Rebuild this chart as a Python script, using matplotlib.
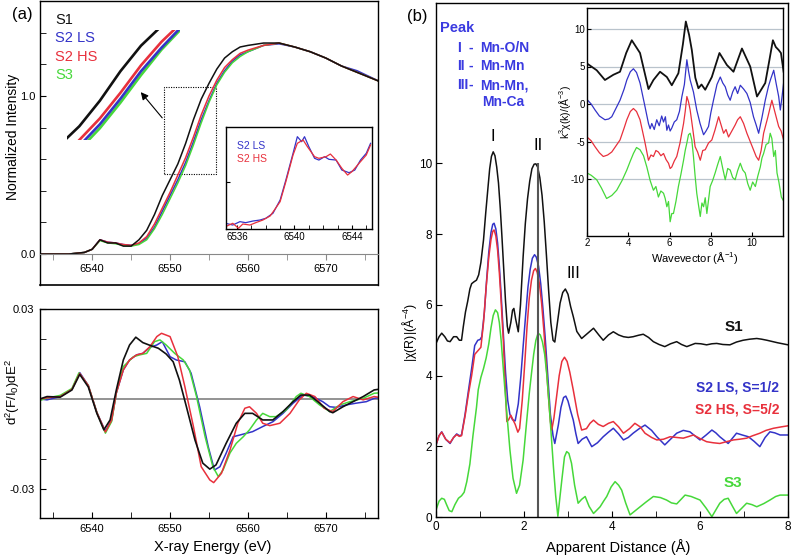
import numpy as np
import matplotlib
matplotlib.use('Agg')
import matplotlib.pyplot as plt
from matplotlib.patches import Rectangle
from matplotlib.ticker import MultipleLocator, FixedLocator

plt.rcParams['font.family'] = ['Liberation Sans', 'DejaVu Sans']
plt.rcParams['mathtext.fontset'] = 'custom'
plt.rcParams['mathtext.rm'] = 'Liberation Sans'
plt.rcParams['mathtext.it'] = 'Liberation Sans:italic'
plt.rcParams['axes.unicode_minus'] = False

BLACK, BLUE, RED, GREEN = '#111111', '#3333c8', '#e8303c', '#46d83a'
TXTBLUE = '#3a3ae0'

# ---- (a) top: normalized XANES ----
energy = [6533, 6535, 6537, 6538, 6539, 6540, 6541, 6542, 6543, 6544, 6545, 6546,
          6547, 6548, 6549, 6550, 6551, 6552, 6553, 6554, 6555, 6556, 6557, 6558,
          6559, 6560, 6562, 6564, 6566, 6568, 6570, 6572, 6574, 6577]
xanes_s1 = [0, 0, 0.0, 0.005, 0.01, 0.03, 0.09, 0.07, 0.07, 0.05, 0.05, 0.09,
            0.15, 0.25, 0.37, 0.47, 0.57, 0.70, 0.85, 0.98, 1.08, 1.17, 1.24, 1.28,
            1.31, 1.32, 1.335, 1.335, 1.31, 1.28, 1.24, 1.19, 1.15, 1.09]
xanes_ls = [0, 0, 0, 0.005, 0.01, 0.03, 0.09, 0.075, 0.07, 0.06, 0.055, 0.065,
            0.10, 0.17, 0.27, 0.37, 0.47, 0.58, 0.71, 0.85, 0.97, 1.08, 1.16, 1.22,
            1.26, 1.28, 1.32, 1.33, 1.31, 1.28, 1.24, 1.19, 1.16, 1.09]
xanes_hs = [0, 0, 0, 0.005, 0.01, 0.03, 0.09, 0.075, 0.07, 0.06, 0.055, 0.07,
            0.11, 0.19, 0.29, 0.39, 0.50, 0.61, 0.74, 0.88, 1.00, 1.10, 1.18, 1.23,
            1.27, 1.29, 1.32, 1.335, 1.31, 1.28, 1.24, 1.19, 1.15, 1.09]
xanes_s3 = [0, 0, 0, 0.005, 0.01, 0.03, 0.085, 0.07, 0.065, 0.055, 0.05, 0.06,
            0.09, 0.16, 0.25, 0.35, 0.45, 0.56, 0.69, 0.83, 0.96, 1.07, 1.15, 1.21,
            1.25, 1.28, 1.32, 1.335, 1.31, 1.28, 1.24, 1.19, 1.15, 1.09]

# pre-edge inset
pre_e_ls = [6535.2, 6535.7, 6536.2, 6536.6, 6537.1, 6537.6, 6538.0, 6538.5, 6539.0, 6539.4,
            6539.9, 6540.2, 6540.5, 6540.7, 6541.0, 6541.4, 6541.7, 6542.1, 6542.4, 6542.9,
            6543.3, 6543.8, 6544.2, 6544.6, 6545.0, 6545.3]
pre_ls = [0.0056, 0.0039, 0.0072, 0.0062, 0.0078, 0.0088, 0.0105, 0.0154, 0.0284, 0.048,
          0.0742, 0.0905, 0.0856, 0.0905, 0.0807, 0.0693, 0.0676, 0.0709, 0.0683, 0.0676,
          0.0578, 0.0552, 0.0578, 0.0676, 0.0742, 0.084]
pre_e_hs = [6535.2, 6535.7, 6536.1, 6536.4, 6536.9, 6537.3, 6537.8, 6538.3, 6538.6, 6539.0,
            6539.4, 6539.9, 6540.2, 6540.6, 6540.9, 6541.4, 6541.7, 6542.2, 6542.5, 6542.9,
            6543.3, 6543.7, 6544.0, 6544.5, 6545.0, 6545.3]
pre_hs = [0.0023, 0.0056, 0.0007, 0.0049, 0.0039, 0.0062, 0.0088, 0.0127, 0.0186, 0.0268,
          0.0464, 0.0725, 0.084, 0.0873, 0.0807, 0.0709, 0.0693, 0.0709, 0.0735, 0.0676,
          0.0595, 0.0529, 0.0562, 0.0644, 0.0725, 0.0824]

# ---- (a) bottom: second derivative ----
d2_e_s1 = [6533.3, 6534.2, 6535.9, 6537.4, 6538.4, 6539.5, 6540.6, 6541.5, 6542.3, 6543.1,
           6544.0, 6544.8, 6545.6, 6546.5, 6547.4, 6548.5, 6549.5, 6550.4, 6551.2, 6552.1,
           6553.2, 6554.2, 6555.1, 6555.9, 6557.2, 6558.5, 6559.6, 6560.6, 6561.9, 6563.2,
           6564.5, 6565.8, 6566.8, 6567.9, 6569.2, 6570.5, 6570.9, 6572.2, 6573.5, 6574.8,
           6576.2, 6576.7]
d2_s1 = [0, 0.0008, 0.0006, 0.003, 0.0082, 0.004, -0.0048, -0.0103, -0.007, 0.003,
         0.013, 0.018, 0.0206, 0.0188, 0.0179, 0.0169, 0.015, 0.0124, 0.0063, -0.0026,
         -0.0137, -0.0214, -0.0234, -0.022, -0.0148, -0.0081, -0.0048, -0.0048, -0.007, -0.007,
         -0.0042, -0.0009, 0.0013, 0.0013, -0.0014, -0.0042, -0.0046, -0.0026, -0.0009, 0.0008,
         0.003, 0.0032]
d2_e_hs = [6533.3, 6534.2, 6535.9, 6537.4, 6538.4, 6539.5, 6540.6, 6541.7, 6542.5, 6543.1,
           6544.0, 6544.8, 6545.7, 6546.5, 6547.4, 6548.3, 6548.9, 6550.0, 6551.0, 6551.9,
           6553.0, 6554.0, 6555.1, 6555.6, 6556.6, 6557.7, 6558.7, 6559.6, 6560.2, 6561.1,
           6561.9, 6562.8, 6564.1, 6565.4, 6566.6, 6567.5, 6568.6, 6569.8, 6570.9, 6572.2,
           6573.5, 6574.8, 6576.2, 6576.7]
d2_hs = [0, 0.0004, 0.0008, 0.0032, 0.0085, 0.0045, -0.0045, -0.011, -0.007, 0.002,
         0.0097, 0.013, 0.0147, 0.0152, 0.0174, 0.0208, 0.0219, 0.0208, 0.0141, 0.0041,
         -0.0092, -0.0226, -0.027, -0.0279, -0.0248, -0.017, -0.0081, -0.0031, -0.0026, -0.0048,
         -0.0081, -0.0089, -0.0081, -0.0048, -0.0003, 0.0019, 0.0008, -0.0031, -0.0042, -0.0009,
         0.0008, -0.0003, 0.0008, 0.0006]
d2_e_ls = [6533.3, 6534.2, 6535.9, 6537.4, 6538.4, 6539.5, 6540.6, 6541.7, 6542.5, 6543.1,
           6544.0, 6544.8, 6545.7, 6546.5, 6547.4, 6548.3, 6549.0, 6550.0, 6550.8, 6551.9,
           6552.7, 6553.8, 6554.9, 6555.7, 6556.4, 6557.2, 6558.1, 6559.0, 6560.6, 6561.9,
           6563.2, 6564.5, 6565.8, 6567.1, 6568.3, 6569.6, 6570.5, 6571.3, 6572.6, 6573.9,
           6575.2, 6576.2, 6576.7]
d2_ls = [0, -0.0003, 0.0008, 0.0032, 0.0088, 0.0045, -0.0045, -0.0108, -0.007, 0.002,
         0.0097, 0.013, 0.0147, 0.0152, 0.0172, 0.018, 0.0191, 0.0141, 0.013, 0.0124,
         0.0086, -0.0026, -0.0159, -0.0237, -0.0226, -0.0181, -0.0126, -0.012, -0.0109, -0.0092,
         -0.0076, -0.0048, -0.0014, 0.0013, 0.0008, -0.0009, -0.0026, -0.0028, -0.002, -0.0014,
         -0.0009, 0.0002, 0.0004]
d2_e_s3 = [6533.3, 6534.2, 6535.9, 6537.4, 6538.3, 6539.5, 6540.6, 6541.7, 6542.5, 6543.1,
           6544.0, 6545.3, 6546.1, 6547.0, 6548.0, 6548.7, 6549.5, 6550.6, 6551.7, 6552.5,
           6553.4, 6554.5, 6555.5, 6556.2, 6556.8, 6557.7, 6558.5, 6559.4, 6560.2, 6561.1,
           6561.9, 6562.8, 6563.6, 6564.9, 6566.2, 6566.8, 6567.9, 6569.2, 6570.5, 6571.8,
           6573.1, 6574.8, 6576.2, 6576.7]
d2_s3 = [-0.0005, 0.0003, 0.0012, 0.0035, 0.0087, 0.0045, -0.0045, -0.0114, -0.0075, 0.002,
         0.0108, 0.0141, 0.0147, 0.0152, 0.0191, 0.0197, 0.018, 0.0152, 0.013, 0.0097,
         0.0008, -0.0126, -0.0226, -0.0259, -0.0237, -0.018, -0.0148, -0.0126, -0.0103, -0.007,
         -0.0048, -0.0059, -0.0059, -0.0037, 0.0008, 0.0019, 0.0008, -0.002, -0.0042, -0.002,
         -0.0009, 0.0002, 0.0019, 0.002]

# ---- (b) Fourier transforms ----
r_s1 = [0, 0.07, 0.13, 0.2, 0.26, 0.32, 0.4, 0.47, 0.53, 0.58,
        0.62, 0.67, 0.72, 0.77, 0.81, 0.86, 0.92, 0.97, 1.02, 1.08,
        1.13, 1.18, 1.22, 1.26, 1.30, 1.34, 1.38, 1.42, 1.46, 1.50,
        1.54, 1.58, 1.62, 1.65, 1.70, 1.74, 1.77, 1.81, 1.87, 1.92,
        1.98, 2.03, 2.08, 2.13, 2.18, 2.23, 2.27, 2.31, 2.36, 2.41,
        2.46, 2.51, 2.56, 2.61, 2.66, 2.70, 2.76, 2.82, 2.88, 2.94,
        3.00, 3.06, 3.12, 3.2, 3.31, 3.45, 3.58, 3.7, 3.80, 3.92,
        4.03, 4.15, 4.26, 4.37, 4.48, 4.6, 4.71, 4.83, 4.94, 5.07,
        5.2, 5.33, 5.47, 5.58, 5.7, 5.89, 6.02, 6.15, 6.27, 6.38,
        6.52, 6.68, 6.83, 6.98, 7.13, 7.29, 7.4, 7.52, 7.76, 8.0]
ft_s1 = [4.91, 5.1, 5.2, 5.1, 4.98, 4.96, 5.1, 5.1, 5.0, 5.0,
         5.38, 5.8, 6.1, 6.45, 6.6, 6.65, 6.7, 6.85, 7.2, 7.84,
         8.6, 9.3, 9.85, 10.2, 10.33, 10.22, 9.9, 9.45, 8.75, 7.9,
         7.0, 6.1, 5.4, 5.2, 5.5, 5.85, 5.9, 5.6, 5.24, 6.0,
         7.36, 8.3, 9.0, 9.5, 9.85, 9.98, 9.99, 9.9, 9.6, 9.1,
         8.35, 7.4, 6.4, 5.5, 5.0, 4.95, 5.5, 6.05, 6.35, 6.45,
         6.3, 5.95, 5.67, 5.25, 5.05, 5.2, 5.34, 5.15, 5.0, 5.15,
         5.24, 5.15, 5.1, 5.08, 5.1, 5.14, 5.17, 5.08, 4.96, 4.88,
         4.82, 4.9, 4.96, 4.88, 4.82, 4.91, 4.9, 4.87, 4.9, 4.91,
         4.88, 4.87, 4.95, 5.0, 5.03, 5.05, 5.03, 5.0, 4.93, 4.87]
r_ls = [0, 0.07, 0.13, 0.22, 0.32, 0.4, 0.47, 0.53, 0.58, 0.66,
        0.74, 0.81, 0.88, 0.95, 1.0, 1.04, 1.10, 1.15, 1.20, 1.25,
        1.29, 1.32, 1.36, 1.40, 1.44, 1.48, 1.53, 1.58, 1.63, 1.68,
        1.74, 1.80, 1.87, 1.93, 1.98, 2.04, 2.09, 2.14, 2.19, 2.24,
        2.28, 2.33, 2.38, 2.43, 2.48, 2.54, 2.60, 2.66, 2.70, 2.78,
        2.84, 2.90, 2.95, 3.0, 3.06, 3.12, 3.18, 3.23, 3.32, 3.42,
        3.54, 3.67, 3.80, 3.92, 4.03, 4.15, 4.26, 4.37, 4.48, 4.62,
        4.75, 4.9, 5.02, 5.2, 5.33, 5.47, 5.62, 5.77, 5.9, 6.0,
        6.14, 6.27, 6.36, 6.45, 6.64, 6.83, 6.96, 7.1, 7.23, 7.36,
        7.48, 7.59, 7.7, 7.82, 8.0]
ft_ls = [2.04, 2.3, 2.41, 2.2, 2.08, 2.25, 2.35, 2.3, 2.32, 2.9,
         3.6, 4.2, 4.85, 5.0, 5.02, 5.1, 5.8, 6.7, 7.5, 8.05,
         8.28, 8.31, 8.15, 7.75, 7.1, 6.3, 5.2, 4.1, 3.3, 2.9,
         2.75, 2.72, 3.2, 4.0, 4.82, 5.75, 6.5, 7.0, 7.32, 7.42,
         7.35, 7.1, 6.6, 5.9, 5.1, 4.0, 2.9, 2.3, 2.08, 2.6,
         3.1, 3.38, 3.42, 3.28, 3.0, 2.74, 2.35, 2.08, 2.2, 2.27,
         1.99, 2.1, 2.27, 2.4, 2.51, 2.35, 2.18, 2.25, 2.37, 2.5,
         2.6, 2.45, 2.27, 2.04, 2.2, 2.37, 2.45, 2.41, 2.28, 2.18,
         2.32, 2.46, 2.38, 2.27, 2.08, 2.37, 2.32, 2.27, 2.14, 1.99,
         2.25, 2.41, 2.38, 2.32, 2.32]
r_hs = [0, 0.07, 0.13, 0.22, 0.32, 0.4, 0.47, 0.53, 0.58, 0.66,
        0.74, 0.81, 0.88, 0.95, 1.02, 1.08, 1.14, 1.20, 1.25, 1.29,
        1.32, 1.36, 1.40, 1.44, 1.48, 1.53, 1.57, 1.61, 1.65, 1.70,
        1.75, 1.80, 1.86, 1.90, 1.96, 2.02, 2.07, 2.12, 2.17, 2.22,
        2.26, 2.30, 2.35, 2.40, 2.45, 2.50, 2.55, 2.60, 2.63, 2.68,
        2.74, 2.80, 2.86, 2.92, 2.98, 3.04, 3.12, 3.22, 3.31, 3.42,
        3.50, 3.58, 3.69, 3.80, 3.92, 4.03, 4.15, 4.26, 4.40, 4.52,
        4.64, 4.75, 4.9, 5.02, 5.17, 5.32, 5.47, 5.62, 5.75, 5.85,
        6.0, 6.15, 6.3, 6.45, 6.6, 6.76, 6.9, 7.06, 7.2, 7.36,
        7.5, 7.67, 7.85, 8.0]
ft_hs = [2.04, 2.3, 2.4, 2.2, 2.1, 2.25, 2.33, 2.28, 2.3, 2.85,
         3.5, 4.0, 4.6, 4.7, 4.8, 5.5, 6.5, 7.35, 7.85, 8.08,
         8.12, 7.95, 7.55, 6.9, 6.1, 5.0, 3.8, 2.7, 2.75, 2.88,
         2.75, 2.62, 2.4, 2.5, 3.3, 4.4, 5.4, 6.2, 6.7, 6.97,
         7.03, 6.92, 6.6, 6.05, 5.3, 4.4, 3.5, 2.7, 2.46, 2.8,
         3.4, 4.0, 4.4, 4.52, 4.4, 4.1, 3.59, 2.9, 2.46, 2.5,
         2.65, 2.74, 2.62, 2.56, 2.65, 2.7, 2.55, 2.37, 2.5, 2.65,
         2.55, 2.37, 2.25, 2.18, 2.2, 2.27, 2.25, 2.23, 2.28, 2.32,
         2.22, 2.13, 2.1, 2.08, 2.13, 2.18, 2.2, 2.23, 2.3, 2.37,
         2.45, 2.51, 2.55, 2.58]
r_s3 = [0, 0.07, 0.13, 0.19, 0.24, 0.3, 0.36, 0.43, 0.51, 0.58,
        0.64, 0.7, 0.77, 0.84, 0.92, 0.96, 1.02, 1.08, 1.14, 1.2,
        1.25, 1.30, 1.35, 1.40, 1.44, 1.48, 1.52, 1.56, 1.61, 1.68,
        1.75, 1.83, 1.9, 1.98, 2.06, 2.12, 2.17, 2.22, 2.27, 2.32,
        2.37, 2.42, 2.47, 2.52, 2.57, 2.62, 2.67, 2.72, 2.77, 2.82,
        2.86, 2.92, 2.97, 3.02, 3.08, 3.15, 3.23, 3.31, 3.39, 3.48,
        3.58, 3.66, 3.73, 3.81, 3.88, 3.98, 4.07, 4.15, 4.22, 4.31,
        4.41, 4.5, 4.6, 4.77, 4.94, 5.1, 5.24, 5.35, 5.47, 5.57,
        5.66, 5.8, 6.0, 6.14, 6.27, 6.36, 6.45, 6.55, 6.64, 6.74,
        6.83, 6.95, 7.06, 7.18, 7.29, 7.45, 7.59, 7.72, 7.82, 8.0]
ft_s3 = [0.2, 0.45, 0.53, 0.5, 0.35, 0.18, 0.15, 0.35, 0.53, 0.6,
         0.7, 1.0, 1.5, 2.3, 3.1, 3.6, 3.95, 4.2, 4.5, 4.9,
         5.35, 5.7, 5.86, 5.78, 5.5, 5.0, 4.35, 3.7, 2.93, 1.9,
         1.1, 0.67, 0.9, 1.61, 2.7, 3.5, 4.06, 4.6, 5.0, 5.2,
         5.15, 4.95, 4.6, 4.0, 3.2, 2.3, 1.4, 0.6, 0.02, 0.6,
         1.05, 1.7, 1.85, 1.8, 1.52, 0.9, 0.39, 0.5, 0.58, 0.3,
         0.1, 0.2, 0.29, 0.45, 0.58, 0.85, 1.0, 0.9, 0.76, 0.4,
         0.06, 0.15, 0.25, 0.42, 0.58, 0.55, 0.48, 0.4, 0.37, 0.5,
         0.62, 0.58, 0.48, 0.25, 0.01, 0.2, 0.39, 0.5, 0.53, 0.3,
         0.1, 0.25, 0.39, 0.35, 0.29, 0.38, 0.48, 0.58, 0.62, 0.62]

# ---- (b) inset: k-space EXAFS ----
k_s1 = [2.0, 2.47, 2.87, 3.28, 3.6, 3.9, 4.17, 4.57, 4.98, 5.22, 5.54, 5.87, 6.11, 6.43,
        6.65, 6.79, 6.95, 7.08, 7.25, 7.4, 7.55, 7.73, 7.9, 8.05, 8.42, 8.78, 9.1, 9.51,
        9.91, 10.24, 10.64, 10.85, 11.01, 11.15, 11.29, 11.4, 11.53]
chi_s1 = [5.4, 4.5, 3.2, 3.9, 4.3, 6.8, 8.5, 6.8, 2.0, 3.2, 4.3, 3.6, 2.5, 4.1,
          8.0, 11.0, 9.2, 7.2, 3.5, 2.1, 2.6, 1.9, 2.8, 3.6, 6.8, 5.2, 4.3, 7.4,
          5.0, 1.0, 2.8, 6.0, 8.5, 7.6, 7.2, 6.8, 4.3]
k_ls = [2.0, 2.2, 2.39, 2.6, 2.87, 3.05, 3.2, 3.4, 3.6, 3.8, 3.93, 4.1, 4.25, 4.4, 4.57,
        4.8, 4.98, 5.06, 5.14, 5.26, 5.38, 5.5, 5.62, 5.71, 5.8, 5.87, 5.95, 6.03, 6.11,
        6.23, 6.35, 6.48, 6.6, 6.72, 6.84, 6.92, 7.0, 7.16, 7.32, 7.48, 7.65, 7.77, 7.89,
        8.0, 8.13, 8.3, 8.46, 8.58, 8.7, 8.82, 8.94, 9.06, 9.18, 9.3, 9.43, 9.59, 9.75,
        9.91, 10.07, 10.2, 10.32, 10.48, 10.64, 10.8, 10.9, 11.05, 11.17, 11.29, 11.37,
        11.45, 11.53]
chi_ls = [0.6, 0.0, -0.8, -1.6, -2.1, -2.0, -1.7, -0.6, 0.5, 2.0, 3.2, 4.3, 4.7, 4.2, 2.8,
          -0.2, -2.6, -3.3, -2.6, -3.4, -2.1, -2.9, -1.6, -2.4, -1.7, -3.5, -2.8, -3.6, -3.2,
          -2.4, -2.1, -1.0, 1.0, 2.6, 5.9, 4.4, 3.2, 1.6, -0.8, -2.6, -4.1, -3.6, -3.0,
          -1.2, 0.5, 2.6, 3.6, 2.8, 2.3, 1.2, 0.5, 1.6, 2.3, 1.4, 2.5, 2.0, 1.4,
          0.2, -1.7, -2.8, -3.9, -1.8, 0.5, 2.4, 3.3, 4.5, 2.7, 1.0, -0.8,
          0.9, 2.8]
k_hs = [2.0, 2.2, 2.39, 2.6, 2.79, 3.0, 3.2, 3.4, 3.6, 3.8, 3.93, 4.1, 4.25, 4.4, 4.57,
        4.8, 4.98, 5.1, 5.22, 5.34, 5.46, 5.58, 5.71, 5.83, 5.95, 6.03, 6.11, 6.23, 6.35,
        6.5, 6.68, 6.76, 6.84, 6.92, 7.0, 7.12, 7.24, 7.36, 7.49, 7.61, 7.73, 7.89, 8.05,
        8.2, 8.38, 8.5, 8.62, 8.74, 8.86, 9.02, 9.18, 9.3, 9.43, 9.59, 9.75, 9.91, 10.07,
        10.2, 10.32, 10.44, 10.56, 10.76, 10.96, 11.1, 11.29, 11.41, 11.53]
chi_hs = [-4.4, -4.9, -5.7, -6.5, -7.0, -6.8, -6.4, -5.6, -4.8, -3.2, -2.1, -1.0, -0.6, -1.0, -2.1,
          -5.0, -7.5, -6.8, -7.0, -6.2, -6.4, -6.9, -6.6, -7.4, -7.9, -8.6, -8.4, -7.6, -7.0,
          -5.3, -2.6, -1.0, 1.0, 0.3, -0.8, -3.2, -5.7, -6.4, -7.5, -6.2, -6.1, -5.2, -4.8,
          -3.5, -1.7, -2.8, -3.9, -3.4, -4.4, -3.6, -2.8, -2.1, -1.7, -2.6, -3.9, -5.0, -6.1,
          -7.0, -7.5, -6.2, -3.9, -1.8, 0.5, -1.0, -3.0, -3.6, -4.8]
k_s3 = [2.0, 2.2, 2.47, 2.7, 2.95, 3.2, 3.44, 3.7, 3.93, 4.1, 4.25, 4.4, 4.57, 4.74, 4.9,
        5.06, 5.22, 5.34, 5.46, 5.58, 5.71, 5.79, 5.87, 5.95, 6.03, 6.11, 6.19, 6.31, 6.43,
        6.55, 6.68, 6.76, 6.84, 6.92, 7.0, 7.08, 7.16, 7.24, 7.32, 7.4, 7.49, 7.57, 7.65,
        7.73, 7.81, 7.89, 7.97, 8.09, 8.21, 8.33, 8.46, 8.58, 8.7, 8.82, 8.94, 9.06, 9.18,
        9.3, 9.43, 9.55, 9.67, 9.79, 9.91, 10.03, 10.16, 10.28, 10.4, 10.48, 10.56, 10.68,
        10.8, 10.88, 10.96, 11.05, 11.13, 11.21, 11.3, 11.42, 11.5]
chi_s3 = [-9.2, -9.5, -10.1, -11.2, -12.6, -12.2, -11.5, -10.2, -8.8, -7.6, -6.6, -5.8, -6.1, -6.9, -8.4,
          -10.2, -11.5, -11.0, -12.4, -11.6, -11.9, -12.6, -13.7, -13.0, -15.7, -14.6, -14.6, -13.0, -11.0,
          -9.4, -7.5, -6.2, -5.2, -4.1, -3.9, -4.8, -7.0, -9.6, -11.9, -13.4, -15.0, -13.2, -13.7,
          -12.5, -14.6, -12.8, -11.0, -10.2, -9.2, -8.1, -7.0, -8.6, -10.1, -8.6, -8.8, -9.8, -10.1,
          -8.9, -7.9, -8.8, -9.2, -10.6, -11.5, -10.4, -11.0, -9.6, -8.4, -7.2, -6.6, -5.4,
          -5.2, -3.9, -4.6, -7.0, -6.2, -9.2, -10.4, -12.4, -12.8]

W, H = 794, 559
fig = plt.figure(figsize=(W / 100, H / 100), dpi=100)


def box(x0, y0, x1, y1):
    return [x0 / W, 1 - y1 / H, (x1 - x0) / W, (y1 - y0) / H]


def fp(x, y):
    return (x / W, 1 - y / H)


def ftext(x, y, s, **kw):
    kw.setdefault('ha', 'center')
    kw.setdefault('va', 'center')
    fig.text(x / W, 1 - y / H, s, **kw)


LW = 1.1

# ---------- (a) top ----------
ax1 = fig.add_axes(box(40, 1, 378, 285))
for y, c in [(xanes_ls, BLUE), (xanes_s3, GREEN), (xanes_hs, RED), (xanes_s1, BLACK)]:
    ax1.plot(energy, y, color=c, lw=LW)
ax1.set_xlim(6533.3, 6576.7)
ax1.set_ylim(-0.196, 1.601)
ax1.spines['bottom'].set_position(('data', 0))
ax1.spines['bottom'].set_color('#888888')
ax1.plot([0, 1], [0, 0], transform=ax1.transAxes, color='k', lw=1.2, clip_on=False)
for s in ['left', 'right', 'top']:
    ax1.spines[s].set_linewidth(1.0)
ax1.xaxis.set_major_locator(MultipleLocator(10))
ax1.xaxis.set_minor_locator(MultipleLocator(5))
ax1.yaxis.set_major_locator(FixedLocator([0.0, 1.0]))
ax1.yaxis.set_minor_locator(MultipleLocator(0.2))
ax1.yaxis.set_major_formatter('{x:.1f}')
ax1.tick_params(axis='x', which='both', direction='out', length=4, color='#888888',
                labelsize=8, pad=3)
ax1.tick_params(axis='y', which='both', direction='in', length=4, labelsize=8, pad=3)
ax1.add_patch(Rectangle((6549.2, 0.506), 6.7, 0.553, fill=False, ec='k', lw=0.8,
                        ls=(0, (1, 1.2))))

# magnified edge
axz = fig.add_axes(box(67, 30, 180, 140))
axz.patch.set_alpha(0)
for y, c in [(xanes_s3, GREEN), (xanes_ls, BLUE), (xanes_hs, RED), (xanes_s1, BLACK)]:
    axz.plot(energy, y, color=c, lw=1.9)
axz.set_xlim(6550.4, 6555.9)
axz.set_ylim(0.5, 1.06)
axz.axis('off')

ax1.annotate('', xy=fp(139, 90), xytext=fp(164, 120), xycoords='figure fraction',
             textcoords='figure fraction',
             arrowprops=dict(arrowstyle='-|>', color='k', lw=0.8, mutation_scale=11))

ftext(12, 15, '(a)', size=12, ha='left')
ftext(55, 20, 'S1', size=10.5, color=BLACK, ha='left')
ftext(55, 38, 'S2 LS', size=10.5, color=BLUE, ha='left')
ftext(55, 57, 'S2 HS', size=10.5, color=RED, ha='left')
ftext(55, 75, 'S3', size=10.5, color=GREEN, ha='left')
ftext(13, 137, 'Normalized Intensity', size=10, rotation=90)

# pre-edge inset
axi = fig.add_axes(box(226, 127, 372, 229))
axi.plot(pre_e_ls, pre_ls, color=BLUE, lw=0.9)
axi.plot(pre_e_hs, pre_hs, color=RED, lw=0.9)
axi.set_xlim(6535.23, 6545.4)
axi.set_ylim(0, 0.1)
axi.xaxis.set_major_locator(FixedLocator([6536, 6540, 6544]))
axi.xaxis.set_minor_locator(MultipleLocator(1))
axi.yaxis.set_major_locator(FixedLocator([0.046]))
axi.set_yticklabels([])
axi.tick_params(which='both', direction='in', length=3, labelsize=7, pad=2)
for s in axi.spines.values():
    s.set_linewidth(1.0)
ftext(237, 146, 'S2 LS', size=7.5, color=BLUE, ha='left')
ftext(237, 159, 'S2 HS', size=7.5, color=RED, ha='left')

# ---------- (a) bottom ----------
ax2 = fig.add_axes(box(40, 309, 378, 518))
ax2.axhline(0, color='#8a8a8a', lw=1.3, zorder=1)
ax2.plot(d2_e_ls, d2_ls, color=BLUE, lw=LW)
ax2.plot(d2_e_s3, d2_s3, color=GREEN, lw=LW)
ax2.plot(d2_e_hs, d2_hs, color=RED, lw=LW)
ax2.plot(d2_e_s1, d2_s1, color=BLACK, lw=1.2)
ax2.set_xlim(6533.3, 6576.7)
ax2.set_ylim(-0.0397, 0.03)
ax2.xaxis.set_major_locator(MultipleLocator(10))
ax2.xaxis.set_minor_locator(MultipleLocator(5))
ax2.yaxis.set_major_locator(FixedLocator([-0.03, 0.03]))
ax2.yaxis.set_minor_locator(MultipleLocator(0.01))
ax2.yaxis.set_major_formatter('{x:.2f}')
ax2.tick_params(which='both', direction='in', length=4, labelsize=8, pad=4)
for s in ax2.spines.values():
    s.set_linewidth(1.0)
ftext(13, 392, 'd$^2$(F/I$_0$)dE$^2$', size=9.5, rotation=90)
ftext(213, 547, 'X-ray Energy (eV)', size=10.5)

# ---------- (b) ----------
axb = fig.add_axes(box(436, 3, 788, 517))
axb.plot(r_s1, ft_s1, color=BLACK, lw=LW)
axb.plot(r_ls, ft_ls, color=BLUE, lw=LW)
axb.plot(r_hs, ft_hs, color=RED, lw=LW)
axb.plot(r_s3, ft_s3, color=GREEN, lw=LW)
axb.vlines(2.31, 0, 10, color='#555555', lw=1.5)
axb.set_xlim(0, 8)
axb.set_ylim(0, 14.54)
axb.xaxis.set_major_locator(MultipleLocator(2))
axb.xaxis.set_minor_locator(MultipleLocator(1))
axb.yaxis.set_major_locator(FixedLocator([0, 2, 4, 6, 8, 10]))
axb.tick_params(which='both', direction='in', length=4, labelsize=8.5, pad=3)
for s in axb.spines.values():
    s.set_linewidth(1.0)

ftext(417, 17, '(b)', size=12)
ftext(440, 28, 'Peak', size=10.5, weight='bold', color=TXTBLUE, ha='left')
for yy, num, name in [(48, 'I', 'Mn-O/N'), (66, 'II', 'Mn-Mn'), (85, 'III', 'Mn-Mn,')]:
    ftext(457, yy, num, size=10, weight='bold', color=TXTBLUE, ha='left')
    ftext(471, yy, '-', size=10, weight='bold', color=TXTBLUE)
    ftext(480, yy, name, size=10, weight='bold', color=TXTBLUE, ha='left')
ftext(482, 102, 'Mn-Ca', size=10, weight='bold', color=TXTBLUE, ha='left')
ftext(493, 137, 'I', size=12)
ftext(538, 145, 'II', size=12)
ftext(573, 273, 'III', size=12)
ftext(734, 327, 'S1', size=11, weight='bold', color=BLACK)
ftext(737, 388, 'S2 LS, S=1/2', size=10, weight='bold', color=BLUE)
ftext(737, 410, 'S2 HS, S=5/2', size=10, weight='bold', color=RED)
ftext(733, 483, 'S3', size=11, weight='bold', color=GREEN)
ftext(410, 333, '|χ(R)|(Å$^{-4}$)', size=9, rotation=90)
ftext(618, 547, 'Apparent Distance (Å)', size=10.5)

# k-space inset
axk = fig.add_axes(box(587, 8, 783, 236))
axk.set_facecolor('white')
for v in [-10, -5, 0, 5, 10]:
    axk.axhline(v, color='#b9c3cc', lw=0.9, zorder=0)
axk.plot(k_s1, chi_s1, color=BLACK, lw=1.3)
axk.plot(k_ls, chi_ls, color=BLUE, lw=0.9)
axk.plot(k_hs, chi_hs, color=RED, lw=0.9)
axk.plot(k_s3, chi_s3, color=GREEN, lw=0.9)
axk.set_xlim(2, 11.5)
axk.set_ylim(-17.6, 12.8)
axk.xaxis.set_major_locator(FixedLocator([2, 4, 6, 8, 10]))
axk.yaxis.set_major_locator(FixedLocator([-10, -5, 0, 5, 10]))
axk.tick_params(which='both', direction='in', length=3, labelsize=7, pad=1.5)
for s in axk.spines.values():
    s.set_linewidth(1.0)
ftext(565, 112, 'k$^3$χ(k)/(Å$^{-3}$)', size=7.5, rotation=90)
ftext(695, 258, 'Wavevector (Å$^{-1}$)', size=8)

fig.savefig('out.png', dpi=100)
